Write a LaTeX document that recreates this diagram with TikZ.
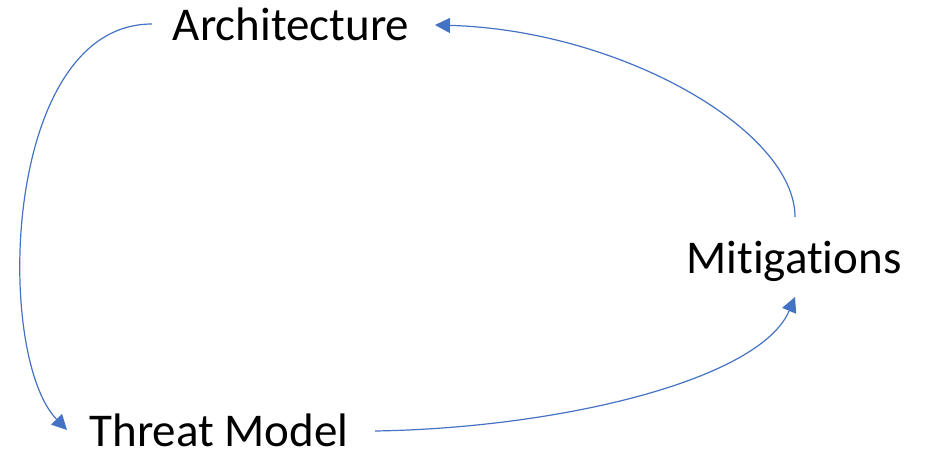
\documentclass[tikz,border=0pt]{standalone}
\usepackage{fontspec}
\setmainfont{Carlito}[Ligatures=NoCommon]
\usetikzlibrary{arrows.meta,calc}
\definecolor{linkblue}{HTML}{4472C4}
\tikzset{
  label/.style={inner sep=0pt, anchor=base, font=\fontsize{47}{56}\selectfont},
  link/.style={draw=linkblue, line width=1.2pt, -{Triangle[length=15pt,width=15pt]}}
}
\begin{document}
\begin{tikzpicture}[x=1pt,y=-1pt]
\useasboundingbox (0,0) rectangle (925,452);
\node[label] (arch) at (291,41) {Architecture};
\node[label] (threat) at (219,446) {Threat Model};
\node[label] (mit) at (794,273) {Mitigations};
\draw[link] ($(arch.base)+(-139,-17)$) .. controls (2,24) and (-6,355) .. ($(threat.base)+(-152,-16)$);
\draw[link] ($(threat.base)+(156,-15)$) .. controls (560,428) and (760,380) .. ($(mit.base)+(1,24)$);
\draw[link] ($(mit.base)+(1,-56)$) .. controls (795,130) and (620,30) .. ($(arch.base)+(144,-16)$);
\end{tikzpicture}
\end{document}
